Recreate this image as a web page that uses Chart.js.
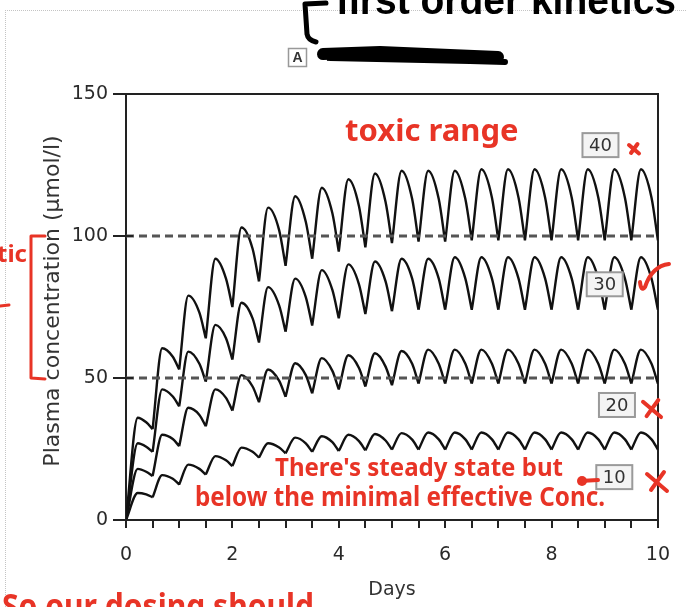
<!doctype html>
<html>
<head>
<title>Plasma concentration</title>
<script src="https://cdn.jsdelivr.net/npm/chart.js@4.4.1/dist/chart.umd.min.js"></script>
<style>
  * { margin: 0; padding: 0; box-sizing: border-box; }
  body { background: #fff; width: 686px; height: 607px; overflow: hidden; position: relative; }
  #frame { position: absolute; left: 5px; top: 10px; right: -2px; bottom: -2px; border-top: 1px dotted #c4c4c4; border-left: 1px dotted #c4c4c4; }
  canvas { position: absolute; left: 0; top: 0; }
</style>
</head>
<body>
<div id="frame"></div>
<canvas id="myCanvas" width="686" height="607"></canvas>
<script>
// dose times (troughs), peak times and late-decay times, in days
const doseDays = [0, 0.5, 1, 1.5, 2, 2.5, 3, 3.5, 4, 4.5, 5, 5.5, 6, 6.5, 7, 7.5, 8, 8.5, 9, 9.5, 10];
const peakDays = [0.22, 0.68, 1.17, 1.68, 2.17, 2.67, 3.18, 3.68, 4.18, 4.68, 5.18, 5.68, 6.18, 6.68, 7.18, 7.68, 8.18, 8.68, 9.18, 9.68];
const lateDays = [0.38, 0.88, 1.38, 1.88, 2.38, 2.88, 3.38, 3.88, 4.38, 4.88, 5.38, 5.88, 6.38, 6.88, 7.38, 7.88, 8.38, 8.88, 9.38, 9.88];

// plasma concentration (umol/l): at each dose, at each peak, late in each interval
const trough40 = [0, 32, 53, 64, 75, 84, 89.5, 92, 94.5, 96, 97.5, 98, 98, 98.5, 98.5, 98.5, 98.5, 98.5, 98.5, 98.5, 98.5];
const peak40 = [36, 60.5, 79, 92, 103, 110, 114, 117, 120, 122, 123, 123, 123, 123.5, 123.5, 123.5, 123.5, 123.5, 123.5, 123.5];
const late40 = [34.4, 57.5, 73, 85, 95.5, 102, 105, 108, 110.5, 112, 113, 113, 113, 113.5, 113.5, 113.5, 113.5, 113.5, 113.5, 113.5];
const trough30 = [0, 24, 40, 48.7, 56.5, 62.5, 66.3, 68.5, 71, 72.5, 73.5, 74, 74, 74, 74, 74, 74, 74, 74, 74, 74];
const peak30 = [27, 46, 59.3, 68.7, 76.5, 82, 85, 88, 90, 91, 92, 92, 92.5, 92.5, 92.5, 92.5, 92.5, 92.5, 92.5, 92.5];
const late30 = [25.8, 43.5, 55, 64, 71, 75.5, 78.5, 81, 83, 84, 85, 85, 85, 85, 85, 85, 85, 85, 85, 85];
const trough20 = [0, 15.5, 26, 33, 38.5, 41.5, 43.4, 44.6, 46, 47, 47.5, 48, 48, 48, 48, 48, 48, 48, 48, 48, 48];
const peak20 = [18, 30, 39.5, 46, 51, 53, 55.2, 57, 58, 58.7, 59.5, 60, 60, 60, 60, 60, 60, 60, 60, 60];
const late20 = [17, 28.5, 37, 43, 47, 49, 51, 52.5, 53.5, 54, 55, 55, 55, 55, 55, 55, 55, 55, 55, 55];
const trough10 = [0, 8, 12.5, 16, 19, 22, 23.5, 24, 24.3, 24.5, 24.8, 24.8, 24.8, 24.8, 24.8, 24.8, 24.8, 24.8, 24.8, 24.8, 24.8];
const peak10 = [9.5, 15.8, 19.5, 22.5, 25.5, 27, 29, 29.5, 30, 30.3, 30.6, 30.8, 30.8, 30.8, 30.8, 30.8, 30.8, 30.8, 30.8, 30.8];
const late10 = [9, 14.5, 18, 21, 24, 25.5, 27, 27.4, 27.8, 28, 28.3, 28.4, 28.4, 28.4, 28.4, 28.4, 28.4, 28.4, 28.4, 28.4];

// dashed reference levels
const levels = [50, 100];
const dayRange = [0, 10];

// boxed dose labels
const doseLabels = ['40', '30', '20', '10'];
const labelDay = [8.92, 9.0, 9.23, 9.18];
const labelConc = [132, 83, 40.5, 15.1];

// one broken line per dosing interval so each trough stays a sharp cusp
function cycles(trough, peak, late) {
  const pts = [];
  for (let k = 0; k < peak.length; k++) {
    pts.push({x: doseDays[k], y: trough[k]});
    pts.push({x: peakDays[k], y: peak[k]});
    pts.push({x: lateDays[k], y: late[k]});
    pts.push({x: doseDays[k + 1], y: trough[k + 1]});
    pts.push({x: doseDays[k + 1], y: null});
  }
  return pts;
}

function curve(trough, peak, late) {
  return {
    data: cycles(trough, peak, late),
    borderColor: '#111',
    borderWidth: 2.4,
    pointRadius: 0,
    cubicInterpolationMode: 'monotone',
    spanGaps: false,
    fill: false
  };
}

const dashed = levels.map(v => ({
  data: dayRange.map(d => ({x: d, y: v})),
  borderColor: '#555',
  borderWidth: 3,
  borderDash: [8, 5],
  pointRadius: 0,
  fill: false
}));

const ink = 'rgb(232,52,38)';
const axisFont = '"DejaVu Sans", Arial, sans-serif';

const notes = {
  id: 'notes',
  afterDraw(chart) {
    const ctx = chart.ctx;
    const x = chart.scales.x, y = chart.scales.y;
    const area = chart.chartArea;
    ctx.save();

    // inner half of the crossing y ticks
    ctx.strokeStyle = '#222';
    ctx.lineWidth = 2;
    y.ticks.forEach(t => {
      const py = Math.round(y.getPixelForValue(t.value));
      ctx.beginPath();
      ctx.moveTo(area.left, py);
      ctx.lineTo(area.left + 7, py);
      ctx.stroke();
    });

    // y axis title
    ctx.save();
    ctx.translate(53, 301);
    ctx.rotate(-Math.PI / 2);
    ctx.fillStyle = '#333';
    ctx.font = '22px ' + axisFont;
    ctx.textAlign = 'center';
    ctx.textBaseline = 'middle';
    ctx.fillText('Plasma concentration (μmol/l)', 0, 0);
    ctx.restore();

    // boxed dose labels
    ctx.font = '18px ' + axisFont;
    ctx.textAlign = 'center';
    ctx.textBaseline = 'middle';
    doseLabels.forEach((s, i) => {
      const px = x.getPixelForValue(labelDay[i]);
      const py = y.getPixelForValue(labelConc[i]);
      ctx.fillStyle = '#f4f4f4';
      ctx.fillRect(px - 18, py - 12, 36, 24);
      ctx.strokeStyle = '#9a9a9a';
      ctx.lineWidth = 2;
      ctx.strokeRect(px - 18, py - 12, 36, 24);
      ctx.fillStyle = '#333';
      ctx.fillText(s, px, py + 1);
    });

    // panel letter and redacted subtitle
    ctx.strokeStyle = '#999';
    ctx.lineWidth = 1.5;
    ctx.strokeRect(288.5, 48.5, 18, 18);
    ctx.fillStyle = '#333';
    ctx.font = 'bold 14px "Liberation Sans", Arial, sans-serif';
    ctx.fillText('A', 297.5, 58);
    ctx.textAlign = 'left';
    ctx.fillText('Normal kinetics', 326, 57);
    ctx.strokeStyle = '#000';
    ctx.lineCap = 'round';
    ctx.lineJoin = 'round';
    ctx.lineWidth = 12;
    ctx.beginPath();
    ctx.moveTo(323, 54);
    ctx.lineTo(380, 52);
    ctx.lineTo(450, 55);
    ctx.lineTo(498, 57);
    ctx.stroke();
    ctx.lineWidth = 6;
    ctx.beginPath();
    ctx.moveTo(330, 58);
    ctx.lineTo(470, 61);
    ctx.lineTo(505, 62);
    ctx.stroke();

    // black handwriting at the top
    ctx.lineWidth = 5;
    ctx.beginPath();
    ctx.moveTo(326, 3);
    ctx.lineTo(305, 4);
    ctx.lineTo(307, 34);
    ctx.quadraticCurveTo(308, 40, 316, 42);
    ctx.stroke();
    ctx.fillStyle = '#000';
    ctx.font = 'bold 40px "Liberation Sans", Arial, sans-serif';
    ctx.textBaseline = 'alphabetic';
    ctx.fillText('first order kinetics', 336, 14, 340);

    // red notes
    ctx.fillStyle = ink;
    ctx.strokeStyle = ink;
    ctx.font = 'bold 31px "Noto Sans", sans-serif';
    ctx.fillText('toxic range', 345, 141, 176);
    ctx.font = 'bold 25px "Noto Sans", sans-serif';
    ctx.fillText("There's steady state but", 275, 476, 288);
    ctx.font = 'bold 27px "Noto Sans", sans-serif';
    ctx.fillText('below the minimal effective Conc.', 195, 506, 410);
    ctx.font = 'bold 34px "Noto Sans", sans-serif';
    ctx.fillText('So our dosing should', 2, 618, 312);
    ctx.textAlign = 'right';
    ctx.font = 'bold 24px "Noto Sans", sans-serif';
    ctx.fillText('therapeutic', 27, 262);

    ctx.lineWidth = 3;
    ctx.beginPath();
    ctx.moveTo(45, 236);
    ctx.lineTo(31, 236);
    ctx.lineTo(31, 378);
    ctx.lineTo(45, 379);
    ctx.stroke();
    ctx.beginPath();
    ctx.moveTo(0, 306);
    ctx.lineTo(9, 305);
    ctx.stroke();

    // crosses and tick
    const cross = (cx, cy, r) => {
      ctx.beginPath();
      ctx.moveTo(cx - r, cy - r * 0.8);
      ctx.lineTo(cx + r, cy + r * 0.9);
      ctx.moveTo(cx + r * 0.7, cy - r);
      ctx.lineTo(cx - r * 0.6, cy + r * 0.8);
      ctx.stroke();
    };
    ctx.lineWidth = 4;
    cross(634, 149, 5);
    cross(652, 409, 9);
    cross(657, 482, 10);
    ctx.beginPath();
    ctx.moveTo(640, 282);
    ctx.quadraticCurveTo(641, 292, 645, 287);
    ctx.quadraticCurveTo(652, 266, 669, 264);
    ctx.stroke();

    // arrow towards the 10 label
    ctx.beginPath();
    ctx.moveTo(580, 481);
    ctx.lineTo(598, 480);
    ctx.stroke();
    ctx.beginPath();
    ctx.arc(582, 481, 5, 0, Math.PI * 2);
    ctx.fill();

    ctx.restore();
  }
};

const tickFont = {family: axisFont, size: 19};

var ctx1 = document.getElementById('myCanvas').getContext('2d');
var myChart = new Chart(ctx1, {
  type: 'line',
  data: {
    datasets: [
      ...dashed,
      curve(trough40, peak40, late40),
      curve(trough30, peak30, late30),
      curve(trough20, peak20, late20),
      curve(trough10, peak10, late10)
    ]
  },
  options: {
    responsive: false,
    devicePixelRatio: 1,
    animation: false,
    layout: {padding: {left: 0, top: 94, right: 25, bottom: 0}},
    plugins: {legend: {display: false}, tooltip: {enabled: false}},
    scales: {
      x: {
        type: 'linear',
        position: 'bottom',
        min: 0,
        max: 10,
        afterFit: s => { s.height = 87; },
        ticks: {
          stepSize: 0.5,
          autoSkip: false,
          maxRotation: 0,
          padding: 16,
          color: '#2a2a2a',
          font: tickFont,
          callback: v => (v % 2 === 0 ? v : '')
        },
        grid: {drawOnChartArea: false, tickLength: 8, color: '#222', lineWidth: 2},
        border: {color: '#222', width: 2},
        title: {display: true, text: 'Days', color: '#333', font: tickFont, padding: {top: 0, bottom: 6}}
      },
      y: {
        type: 'linear',
        position: 'left',
        min: 0,
        max: 150,
        afterFit: s => { s.width = 126; },
        ticks: {stepSize: 50, padding: 5, color: '#2a2a2a', font: tickFont},
        grid: {drawOnChartArea: false, tickLength: 13, color: '#222', lineWidth: 2},
        border: {color: '#222', width: 2}
      },
      x2: {
        type: 'linear',
        position: 'top',
        min: 0,
        max: 10,
        afterFit: s => { s.height = 0; },
        ticks: {display: false},
        grid: {display: false},
        border: {color: '#222', width: 2}
      },
      y2: {
        type: 'linear',
        position: 'right',
        min: 0,
        max: 150,
        afterFit: s => { s.width = 0; },
        ticks: {display: false},
        grid: {display: false},
        border: {color: '#222', width: 2}
      }
    }
  },
  plugins: [notes]
});
</script>
</body>
</html>
